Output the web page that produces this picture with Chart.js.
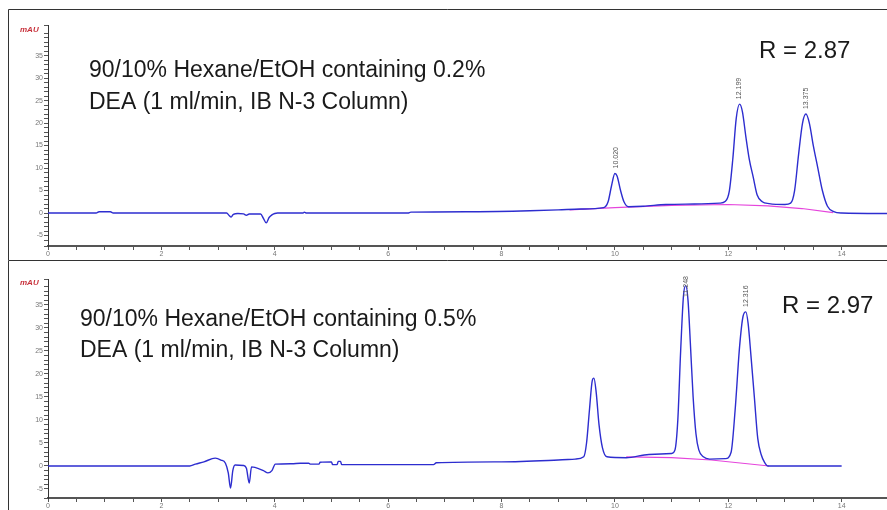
<!DOCTYPE html>
<html>
<head>
<meta charset="utf-8">
<script src="https://cdn.jsdelivr.net/npm/chart.js@4.4.0/dist/chart.umd.min.js"></script>
<style>
body { margin: 0; background: #fff; overflow: hidden; }
#wrap { position: relative; width: 887px; height: 510px; }
canvas { position: absolute; left: 0; }
#topChart { top: 0; }
#bottomChart { top: 260px; }
</style>
</head>
<body>
<div id="wrap">
    <canvas id="topChart" width="887" height="260"></canvas>
    <canvas id="bottomChart" width="887" height="250"></canvas>
</div>
<script>
// tick labels (min / mAU)
const xTickLabels = [0, 2, 4, 6, 8, 10, 12, 14];
const yTickLabels = [-5, 0, 5, 10, 15, 20, 25, 30, 35];

// 0.2% DEA run: [time (min), signal (mAU)]
const topTrace = [
    [0, 0], [0.85, 0], [0.9, 0.3], [1.1, 0.3], [1.15, 0], [3.15, 0], [3.2, -0.6], [3.23, -0.9],
    [3.27, -0.3], [3.35, -0.1], [3.45, -0.2], [3.5, -0.5], [3.55, -0.2], [3.75, -0.2], [3.8, -1.2],
    [3.85, -2.2], [3.9, -1.0], [3.95, -0.4], [4.0, -0.1], [4.05, 0], [4.5, 0], [4.52, 0.2], [4.56, 0],
    [6.35, 0], [6.4, 0.2], [7.5, 0.3], [8.5, 0.5], [9.0, 0.7], [9.4, 0.9], [9.8, 1.2], [9.88, 2.5],
    [9.94, 6.0], [10.0, 8.8], [10.04, 8.2], [10.1, 5.0], [10.16, 2.5], [10.24, 1.4], [10.5, 1.5],
    [10.9, 1.9], [11.4, 2.0], [11.85, 2.2], [11.95, 2.6], [12.02, 5], [12.08, 12], [12.14, 21],
    [12.2, 24.2], [12.25, 22.5], [12.31, 17], [12.37, 12], [12.44, 8], [12.51, 4], [12.6, 2.5],
    [12.72, 2.1], [13.0, 1.9], [13.1, 2.2], [13.17, 5], [13.24, 13], [13.31, 20], [13.37, 22],
    [13.43, 20], [13.5, 15], [13.58, 10], [13.66, 5], [13.75, 1.5], [13.86, 0.3], [14.0, 0], [14.8, -0.1]
];
const topBaseline = [[9.2, 0.7], [10, 1.2], [11, 1.7], [12, 1.9], [12.7, 1.6], [13.3, 1.0], [13.85, 0.1]];
const topPeakTimes = [10.02, 12.199, 13.375];
const topPeakLabels = ['10.020', '12.199', '13.375'];

// 0.5% DEA run
const bottomTrace = [
    [0, 0], [2.5, 0], [2.6, 0.4], [2.75, 0.9], [2.95, 1.7], [3.05, 1.3], [3.13, 0.6], [3.18, -1.5],
    [3.22, -4.8], [3.26, -1.0], [3.3, 0.2], [3.45, 0.1], [3.5, -0.5], [3.55, -3.7], [3.59, -0.2],
    [3.65, -0.3], [3.8, -1.0], [3.88, -1.5], [3.95, -1.0], [4.01, 0.4], [4.3, 0.5], [4.45, 0.6],
    [4.6, 0.6], [4.63, 0.4], [4.78, 0.4], [4.8, 0.8], [5.0, 0.9], [5.02, 0.3], [5.1, 0.3], [5.12, 1.0],
    [5.16, 1.0], [5.18, 0.3], [6.8, 0.3], [6.85, 0.7], [8, 0.9], [9.0, 1.3], [9.3, 1.5], [9.45, 2.0],
    [9.5, 5], [9.55, 12], [9.6, 18.5], [9.63, 19.1], [9.67, 16], [9.72, 9], [9.78, 4], [9.86, 2.0],
    [10.2, 1.8], [10.6, 2.5], [11.0, 2.7], [11.06, 3.5], [11.11, 10], [11.16, 25], [11.21, 37],
    [11.25, 39.2], [11.29, 36], [11.33, 27], [11.38, 15], [11.43, 7], [11.48, 3.5], [11.56, 2.0],
    [11.67, 1.5], [11.95, 1.6], [12.05, 3], [12.12, 12], [12.2, 26], [12.26, 32.5], [12.31, 33.5],
    [12.35, 31], [12.4, 24], [12.46, 15], [12.52, 6], [12.58, 2.5], [12.64, 0.8], [12.7, 0], [14.0, 0]
];
const bottomBaseline = [[10.2, 2.0], [11.0, 1.8], [11.7, 1.3], [12.72, 0]];
const bottomPeakTimes = [11.248, 12.316];
const bottomPeakLabels = ['11.248', '12.316'];

const TEXT_FONT = '"Liberation Sans", Arial, sans-serif';

// vẽ khung, chữ chú thích và nhãn đỉnh
const panelDecor = {
    id: 'panelDecor',
    afterDraw(chart, args, opts) {
        const ctx = chart.ctx;
        const xs = chart.scales.x, ys = chart.scales.y;
        const area = chart.chartArea;
        ctx.save();

        // khung
        ctx.strokeStyle = '#333';
        ctx.lineWidth = 1;
        ctx.beginPath();
        ctx.moveTo(8.5, opts.borderTop);
        ctx.lineTo(887, opts.borderTop);
        ctx.moveTo(8.5, opts.borderTop);
        ctx.lineTo(8.5, chart.height);
        ctx.stroke();

        // mAU
        ctx.fillStyle = '#c8323c';
        ctx.font = 'italic bold 8px ' + TEXT_FONT;
        ctx.textAlign = 'left';
        ctx.textBaseline = 'middle';
        ctx.fillText('mAU', 20, opts.mauY);

        // nhãn đỉnh
        ctx.fillStyle = '#555';
        ctx.font = '7px ' + TEXT_FONT;
        opts.peakTimes.forEach((t, i) => {
            let apex = -Infinity;
            opts.trace.forEach(p => {
                if (Math.abs(p[0] - t) < 0.1 && p[1] > apex) apex = p[1];
            });
            const px = xs.getPixelForValue(t);
            const text = opts.peakLabels[i];
            const w = ctx.measureText(text).width;
            let bottom = ys.getPixelForValue(apex) - 5;
            if (bottom - w < area.top - 3) bottom = area.top - 3 + w;
            ctx.save();
            ctx.translate(px, bottom);
            ctx.rotate(-Math.PI / 2);
            ctx.textAlign = 'left';
            ctx.textBaseline = 'middle';
            ctx.fillText(text, 0, 0);
            ctx.restore();
        });

        // chú thích
        ctx.fillStyle = '#1a1a1a';
        ctx.textBaseline = 'alphabetic';
        ctx.textAlign = 'left';
        ctx.font = '23px ' + TEXT_FONT;
        opts.lines.forEach(l => ctx.fillText(l.text, l.x, l.y));
        ctx.font = '24px ' + TEXT_FONT;
        ctx.fillText(opts.rText, opts.rX, opts.rY);
        ctx.restore();
    }
};

function makeChart(id, trace, baseline, cfg) {
    const ctx = document.getElementById(id).getContext('2d');
    return new Chart(ctx, {
        type: 'line',
        data: {
            datasets: [{
                data: trace.map(p => ({ x: p[0], y: p[1] })),
                borderColor: '#2d2dcf',
                borderWidth: 1.4,
                pointRadius: 0,
                cubicInterpolationMode: 'monotone'
            }, {
                data: baseline.map(p => ({ x: p[0], y: p[1] })),
                borderColor: '#e545dc',
                borderWidth: 1.2,
                pointRadius: 0
            }]
        },
        options: {
            responsive: false,
            animation: false,
            events: [],
            layout: { padding: { top: cfg.padTop, left: 0, right: 0, bottom: 0 } },
            plugins: {
                legend: { display: false },
                tooltip: { enabled: false },
                panelDecor: cfg.decor
            },
            scales: {
                x: {
                    type: 'linear',
                    min: 0,
                    max: 14.8,
                    afterFit: s => { s.height = cfg.xHeight; },
                    border: { color: '#555', width: 2 },
                    grid: { drawOnChartArea: false, color: '#555', tickLength: 4 },
                    ticks: {
                        stepSize: 0.5,
                        autoSkip: false,
                        maxRotation: 0,
                        padding: 0,
                        color: '#777',
                        font: { size: 7, family: TEXT_FONT },
                        callback: v => xTickLabels.includes(v) ? String(v) : ''
                    }
                },
                y: {
                    type: 'linear',
                    min: cfg.yMin,
                    max: cfg.yMax,
                    afterFit: s => { s.width = 48; },
                    border: { color: '#333', width: 1 },
                    grid: { drawOnChartArea: false, color: '#555', tickLength: 4 },
                    ticks: {
                        stepSize: 1,
                        autoSkip: false,
                        padding: 1,
                        color: '#777',
                        font: { size: 7, family: TEXT_FONT },
                        callback: v => yTickLabels.includes(v) ? String(v) : ''
                    }
                }
            }
        },
        plugins: [panelDecor]
    });
}

makeChart('topChart', topTrace, topBaseline, {
    padTop: 25, xHeight: 14, yMin: -7.33, yMax: 41.8,
    decor: {
        borderTop: 9.5, mauY: 30,
        trace: topTrace, peakTimes: topPeakTimes, peakLabels: topPeakLabels,
        lines: [
            { text: '90/10% Hexane/EtOH containing 0.2%', x: 89, y: 77 },
            { text: 'DEA (1 ml/min, IB N-3 Column)', x: 89, y: 109 }
        ],
        rText: 'R = 2.87', rX: 759, rY: 58
    }
});

makeChart('bottomChart', bottomTrace, bottomBaseline, {
    padTop: 19, xHeight: 12, yMin: -6.96, yMax: 40.65,
    decor: {
        borderTop: 0.5, mauY: 23,
        trace: bottomTrace, peakTimes: bottomPeakTimes, peakLabels: bottomPeakLabels,
        lines: [
            { text: '90/10% Hexane/EtOH containing 0.5%', x: 80, y: 66 },
            { text: 'DEA (1 ml/min, IB N-3 Column)', x: 80, y: 97 }
        ],
        rText: 'R = 2.97', rX: 782, rY: 53
    }
});
</script>
</body>
</html>
